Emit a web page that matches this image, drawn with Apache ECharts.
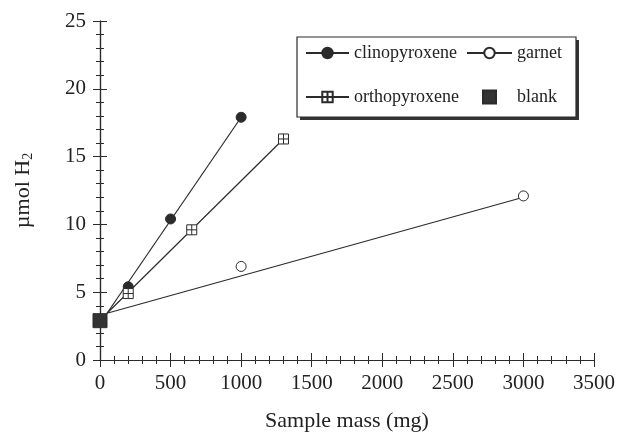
<!DOCTYPE html>
<html>
<head>
<meta charset="utf-8">
<script src="https://cdn.jsdelivr.net/npm/echarts@6/dist/echarts.min.js"></script>
<style>
  html, body { margin: 0; padding: 0; background: #fff; }
  #chart { width: 618px; height: 437px; }
</style>
</head>
<body>
<div id="chart"></div>
<script>
// measured points (sample mass in mg, H2 in umol)
const clinoMass = [200, 500, 1000];
const clinoH2 = [5.4, 10.4, 17.9];
const orthoMass = [200, 650, 1300];
const orthoH2 = [4.9, 9.6, 16.3];
const garnetMass = [1000, 3000];
const garnetH2 = [6.9, 12.1];
const blankMass = [0];
const blankH2 = [2.9];

// fitted lines: [start, end]
const clinoFitMass = [50, 1000];
const clinoFitH2 = [3.45, 17.9];
const orthoFitMass = [50, 1300];
const orthoFitH2 = [3.45, 16.3];
const garnetFitMass = [50, 3000];
const garnetFitH2 = [3.45, 12.0];

const xTicks = [0, 3500, 500];
const yTicks = [0, 25, 5];

const ink = '#2b2b2b';
const serif = '"Liberation Serif", "DejaVu Serif", serif';
const crossBox = 'path://M0,0H10V10H0Z M5,0V10 M0,5H10';
const square = 'path://M0,0H10V10H0Z';

function pairs(xs, ys) {
  const out = [];
  for (let i = 0; i < xs.length; i++) {
    out.push([xs[i], ys[i]]);
  }
  return out;
}

function fitLine(name, xs, ys, symbol, fill) {
  return {
    name: name,
    type: 'line',
    data: pairs(xs, ys),
    symbol: symbol,
    showSymbol: false,
    lineStyle: { color: ink, width: 1.2 },
    itemStyle: { color: fill, borderColor: ink, borderWidth: 1 },
    z: 2
  };
}

function points(name, xs, ys, symbol, size, fill) {
  return {
    name: name,
    type: 'scatter',
    data: pairs(xs, ys),
    symbol: symbol,
    symbolSize: size,
    itemStyle: { color: fill, borderColor: ink, borderWidth: 1, opacity: 1 },
    z: 3
  };
}

const chart = echarts.init(document.getElementById('chart'));

const tickCommon = {
  axisLine: { show: true, lineStyle: { color: ink, width: 1.2 } },
  axisTick: { show: true, inside: true, length: 7, lineStyle: { color: ink } },
  minorTick: { show: true, splitNumber: 5, length: 4, lineStyle: { color: ink } },
  splitLine: { show: false }
};

const legendText = { fontFamily: serif, fontSize: 18, color: '#222' };

chart.setOption({
  animation: false,
  backgroundColor: '#fff',
  grid: { left: 100, right: 24, top: 21, bottom: 77 },
  graphic: [
    {
      type: 'rect',
      shape: { x: 300, y: 40, width: 279, height: 80 },
      style: { fill: '#333' },
      z: 1
    },
    {
      type: 'rect',
      shape: { x: 297, y: 37, width: 279, height: 80 },
      style: { fill: '#fff', stroke: ink, lineWidth: 1.2 },
      z: 1
    }
  ],
  legend: [
    {
      orient: 'vertical',
      left: 305,
      top: 44,
      padding: 0,
      itemWidth: 43,
      itemHeight: 13,
      itemGap: 26,
      selectedMode: false,
      data: ['clinopyroxene', 'orthopyroxene'],
      textStyle: legendText
    },
    {
      orient: 'vertical',
      left: 466,
      top: 44,
      padding: 0,
      itemWidth: 45,
      itemHeight: 13,
      itemGap: 26,
      selectedMode: false,
      symbolKeepAspect: true,
      data: ['garnet', { name: 'blank', icon: square }],
      textStyle: legendText
    }
  ],
  xAxis: [
    Object.assign({
      type: 'value',
      position: 'bottom',
      min: xTicks[0], max: xTicks[1], interval: xTicks[2],
      name: 'Sample mass (mg)',
      nameLocation: 'middle',
      nameGap: 50,
      nameTextStyle: { fontFamily: serif, fontSize: 22, color: '#222' },
      axisLabel: { fontFamily: serif, fontSize: 21, color: '#222', margin: 13, formatter: function (v) { return String(v); } }
    }, tickCommon),
    Object.assign({
      type: 'value',
      position: 'top',
      min: xTicks[0], max: xTicks[1], interval: xTicks[2],
      axisLabel: { show: false }
    }, tickCommon)
  ],
  yAxis: [
    Object.assign({
      type: 'value',
      position: 'left',
      min: yTicks[0], max: yTicks[1], interval: yTicks[2],
      name: 'µmol H{sub|2}',
      nameLocation: 'middle',
      nameGap: 65,
      nameTextStyle: {
        fontFamily: serif, fontSize: 22, color: '#222',
        rich: { sub: { fontFamily: serif, fontSize: 14, color: '#222', verticalAlign: 'bottom', padding: [10, 0, 0, 0] } }
      },
      axisLabel: { fontFamily: serif, fontSize: 21, color: '#222', margin: 14 }
    }, tickCommon),
    Object.assign({
      type: 'value',
      position: 'right',
      min: yTicks[0], max: yTicks[1], interval: yTicks[2],
      axisLabel: { show: false }
    }, tickCommon)
  ],
  series: [
    fitLine('clinopyroxene', clinoFitMass, clinoFitH2, 'circle', ink),
    fitLine('garnet', garnetFitMass, garnetFitH2, 'circle', '#fff'),
    fitLine('orthopyroxene', orthoFitMass, orthoFitH2, crossBox, '#fff'),
    points('clinopyroxene', clinoMass, clinoH2, 'circle', 10, ink),
    points('garnet', garnetMass, garnetH2, 'circle', 10, '#fff'),
    points('orthopyroxene', orthoMass, orthoH2, crossBox, 10, '#fff'),
    points('blank', blankMass, blankH2, 'rect', 14, '#333')
  ]
});
</script>
</body>
</html>
